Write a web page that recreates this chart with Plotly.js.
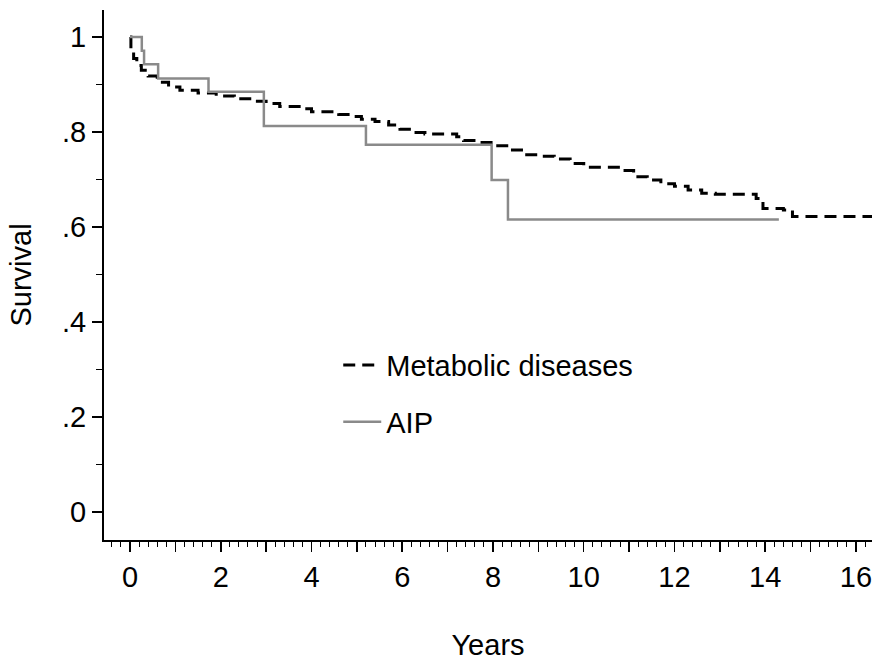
<!DOCTYPE html>
<html>
<head>
<meta charset="utf-8">
<script src="https://cdn.plot.ly/plotly-3.0.1.min.js"></script>
<style>html,body{margin:0;padding:0;background:#fff;}#chart{width:874px;height:666px;}</style>
</head>
<body>
<div id="chart"></div>
<script>
// Kaplan-Meier step data (years, survival)
const metabolicYears = [0, 0.02, 0.08, 0.15, 0.25, 0.4, 0.6, 0.85, 1.1, 1.5, 1.9, 2.3, 2.7, 3.0, 3.3, 3.8, 4.0, 4.6, 4.9, 5.1, 5.4, 5.7, 5.95, 6.2, 6.5, 7.2, 7.35, 7.7, 8.0, 8.35, 8.7, 9.0, 9.35, 9.7, 10.0, 10.8, 11.1, 11.4, 11.7, 12.0, 12.3, 12.6, 12.9, 13.8, 13.95, 14.4, 14.6, 16.4];
const metabolicSurv  = [1.0, 0.975, 0.955, 0.94, 0.93, 0.918, 0.905, 0.895, 0.888, 0.882, 0.876, 0.870, 0.865, 0.860, 0.854, 0.849, 0.843, 0.837, 0.833, 0.827, 0.822, 0.815, 0.806, 0.799, 0.796, 0.790, 0.782, 0.778, 0.771, 0.762, 0.752, 0.749, 0.743, 0.734, 0.726, 0.719, 0.706, 0.699, 0.691, 0.686, 0.678, 0.671, 0.669, 0.660, 0.639, 0.636, 0.622, 0.622];
const aipYears = [0, 0.26, 0.31, 0.62, 1.73, 2.95, 5.2, 7.97, 8.33, 14.3];
const aipSurv  = [1.0, 0.971, 0.943, 0.913, 0.885, 0.813, 0.773, 0.699, 0.616, 0.616];

const xTickVals = [0,1,2,3,4,5,6,7,8,9,10,11,12,13,14,15,16];
const xTickText = ['0','','2','','4','','6','','8','','10','','12','','14','','16'];
const yTickVals = [0, 0.2, 0.4, 0.6, 0.8, 1];
const yTickText = ['0', '.2', '.4', '.6', '.8', '1'];

const FONT = 'Liberation Sans, Arial, sans-serif';
const FS = 29;

const traces = [
  {
    x: metabolicYears, y: metabolicSurv, type: 'scatter', mode: 'lines',
    line: {shape: 'hv', color: '#000000', width: 3, dash: '12px,7px'},
    name: 'Metabolic diseases', legendgroup: 'a'
  },
  {
    x: aipYears, y: aipSurv, type: 'scatter', mode: 'lines',
    line: {shape: 'hv', color: '#8a8a8a', width: 2.5},
    name: 'AIP', legendgroup: 'b'
  }
];

const layout = {
  width: 874, height: 666,
  margin: {l: 104, r: 2, t: 10, b: 126},
  paper_bgcolor: '#ffffff', plot_bgcolor: '#ffffff',
  font: {family: FONT, size: FS, color: '#000'},
  showlegend: true,
  legend: {
    x: 0.305, y: 0.378, xanchor: 'left', yanchor: 'top',
    bgcolor: 'rgba(0,0,0,0)', borderwidth: 0,
    traceorder: 'grouped', tracegroupgap: 16, itemwidth: 38,
    font: {family: FONT, size: FS, color: '#000'}
  },
  xaxis: {
    range: [-0.573, 16.353],
    showgrid: false, zeroline: false,
    showline: true, linecolor: '#000', linewidth: 2,
    tickmode: 'array', tickvals: xTickVals, ticktext: xTickText,
    ticks: 'outside', ticklen: 10, tickwidth: 1.5, tickcolor: '#000',
    minor: {dtick: 0.2, tick0: 0, ticks: 'outside', ticklen: 5, tickwidth: 1, tickcolor: '#000', showgrid: false},
    tickfont: {family: FONT, size: FS},
    title: {text: 'Years', standoff: 43, font: {family: FONT, size: FS}}
  },
  yaxis: {
    range: [-0.059, 1.057],
    showgrid: false, zeroline: false,
    showline: true, linecolor: '#000', linewidth: 2,
    tickmode: 'array', tickvals: yTickVals, ticktext: yTickText,
    ticks: 'outside', ticklen: 10, tickwidth: 1.5, tickcolor: '#000',
    minor: {dtick: 0.1, tick0: 0, ticks: 'outside', ticklen: 6, tickwidth: 1, tickcolor: '#000', showgrid: false},
    tickfont: {family: FONT, size: FS},
    title: {text: 'Survival', standoff: 22, font: {family: FONT, size: FS}}
  }
};

Plotly.newPlot('chart', traces, layout, {displayModeBar: false, staticPlot: true});
</script>
</body>
</html>
